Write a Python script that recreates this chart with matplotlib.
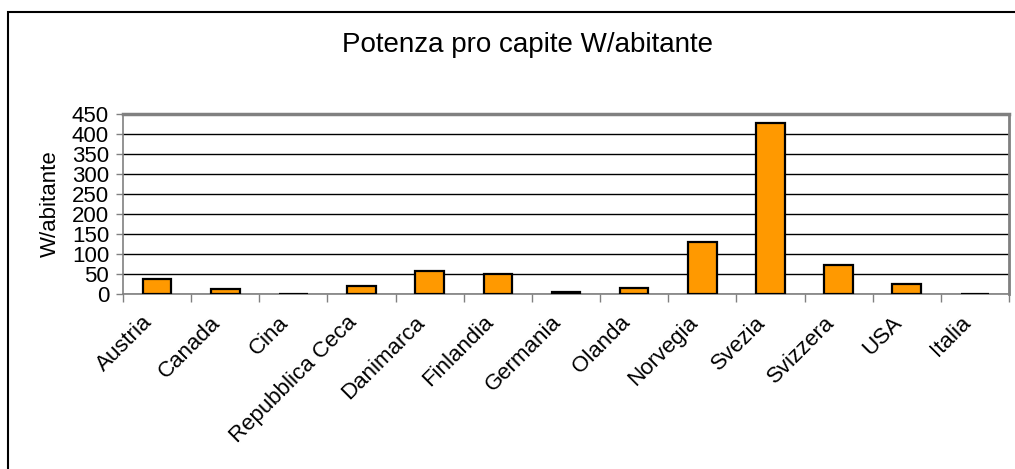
import matplotlib
matplotlib.use('Agg')
import matplotlib.pyplot as plt
import matplotlib.transforms as mtransforms
import numpy as np
from matplotlib.patches import Rectangle

# data
paesi = ['Austria', 'Canada', 'Cina', 'Repubblica Ceca', 'Danimarca', 'Finlandia',
         'Germania', 'Olanda', 'Norvegia', 'Svezia', 'Svizzera', 'USA', 'Italia']
potenza = [37, 13, 1, 19, 58, 49, 5, 15, 131, 427, 73, 26, 1]
yticks = [0, 50, 100, 150, 200, 250, 300, 350, 400, 450]

plt.rcParams['font.family'] = ['Liberation Sans', 'DejaVu Sans']

W, H = 1015, 469
fig = plt.figure(figsize=(W / 100, H / 100), dpi=100)
fig.patch.set_facecolor('white')

# outer chart border (cut off at right and bottom)
fig.patches.append(Rectangle((8 / W, -0.1), 1.2, 1 - 12 / H + 0.1, transform=fig.transFigure,
                             fill=False, edgecolor='black', linewidth=1.5))

ax = fig.add_axes([123 / W, 1 - 294 / H, (1009 - 123) / W, (294 - 114) / H])
x = np.arange(len(paesi))
ax.bar(x, potenza, width=0.42, color='#FF9900', edgecolor='black', linewidth=1.6, zorder=3)

ax.set_xlim(-0.5, len(paesi) - 0.5)
ax.set_ylim(0, 450)
ax.set_yticks(yticks)
ax.tick_params(axis='y', labelsize=16, length=5, width=1, color='#808080', pad=5)
ax.yaxis.grid(True, color='black', linewidth=1, zorder=0)
ax.set_axisbelow(True)

# x ticks at category boundaries, labels centered on categories
ax.set_xticks(np.arange(len(paesi) + 1) - 0.5)
ax.set_xticklabels([])
ax.tick_params(axis='x', which='major', length=6, width=1, color='#808080', direction='out')
ax.set_xticks(x, minor=True)
ax.set_xticklabels(paesi, minor=True, rotation=45, ha='right', va='top',
                   rotation_mode='anchor', fontsize=16)
ax.tick_params(axis='x', which='minor', length=0, pad=10)
shift = mtransforms.ScaledTranslation(-15 / 100, -4 / 100, fig.dpi_scale_trans)
for lab in ax.xaxis.get_minorticklabels():
    lab.set_transform(lab.get_transform() + shift)

for s in ['top', 'right', 'left', 'bottom']:
    ax.spines[s].set_color('#808080')
ax.spines['top'].set_linewidth(2.5)
ax.spines['right'].set_linewidth(2)
ax.spines['left'].set_linewidth(1.2)
ax.spines['bottom'].set_linewidth(1.2)

ax.set_ylabel('W/abitante', fontsize=16, labelpad=8)
fig.text(527 / W, 1 - 45 / H, 'Potenza pro capite W/abitante', ha='center', va='center', fontsize=20)

plt.savefig('out.png', dpi=100)
